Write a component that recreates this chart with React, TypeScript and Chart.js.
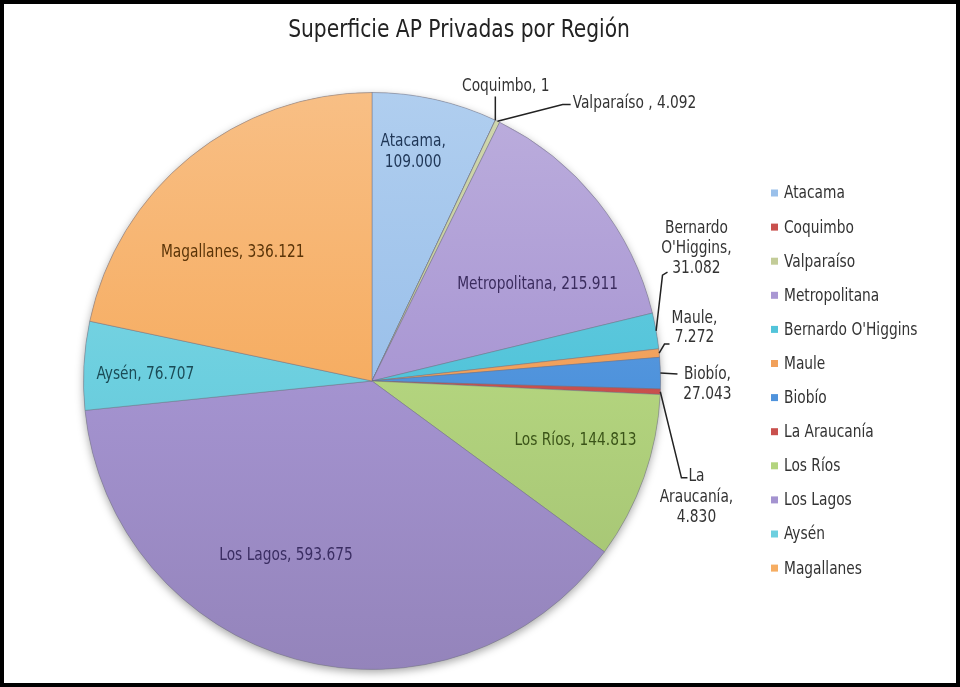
import { useEffect, useRef } from "react";
import { Chart, registerables } from "chart.js";

Chart.register(...registerables);

// ---------- data ----------
const regions = [
  "Atacama",
  "Coquimbo",
  "Valparaíso",
  "Metropolitana",
  "Bernardo O'Higgins",
  "Maule",
  "Biobío",
  "La Araucanía",
  "Los Ríos",
  "Los Lagos",
  "Aysén",
  "Magallanes",
];
const superficie = [109000, 1, 4092, 215911, 31082, 7272, 27043, 4830, 144813, 593675, 76707, 336121];
const chartTitle = "Superficie AP Privadas por Región";

// ---------- styles ----------
const sliceColors = [
  "#9ac0ea", "#c9504d", "#c3cc98", "#a997d3", "#52c4da", "#f1a05a",
  "#4f93dc", "#c9504d", "#b3d47e", "#a493d0", "#6ccfdf", "#f6ad62",
];
const labelInk = [
  "#1f3656", "#333333", "#333333", "#3b2c5e", "#333333", "#333333",
  "#333333", "#333333", "#3b5418", "#3a2d62", "#1b4b56", "#5a3408",
];
const FONT = "'Liberation Sans Narrow', 'Arial Narrow', 'DejaVu Sans Condensed', sans-serif";
const SQUEEZE = 0.9;

type Pt = { x?: number; y: number };
type LabelLayout =
  | { kind: "in"; tpl: string; angle: number; rf: number; lh?: number }
  | { kind: "out"; tpl: string; tx: number; ty: number; align: CanvasTextAlign; lh?: number; path: Pt[] };

const labelLayout: LabelLayout[] = [
  { kind: "in", tpl: "{name},|{value}", angle: 10.2, rf: 0.806, lh: 21 },
  { kind: "out", tpl: "{name}, {value}", tx: 134, ty: -295, align: "center", path: [{ y: -285 }] },
  { kind: "out", tpl: "{name} , {value}", tx: 201, ty: -278, align: "left", path: [{ x: 191, y: -277 }, { x: 199, y: -277 }] },
  { kind: "in", tpl: "{name}, {value}", angle: 59.7, rf: 0.665 },
  { kind: "out", tpl: "{w0}|{w1},|{value}", tx: 325, ty: -153, align: "center", lh: 20, path: [{ x: 291, y: -106 }, { x: 296, y: -109 }] },
  { kind: "out", tpl: "{name},|{value}", tx: 323, ty: -63, align: "center", lh: 20, path: [{ x: 293, y: -37 }, { x: 298, y: -37 }] },
  { kind: "out", tpl: "{name},|{value}", tx: 336, ty: -6, align: "center", lh: 20, path: [{ x: 306, y: -7 }] },
  { kind: "out", tpl: "{w0}|{w1},|{value}", tx: 325, ty: 96, align: "center", lh: 20.5, path: [{ x: 310, y: 97 }, { x: 316, y: 97 }] },
  { kind: "in", tpl: "{name}, {value}", angle: 106.4, rf: 0.735 },
  { kind: "in", tpl: "{name}, {value}", angle: 206.2, rf: 0.675 },
  { kind: "in", tpl: "{name}, {value}", angle: 271.5, rf: 0.786 },
  { kind: "in", tpl: "{name}, {value}", angle: 312.7, rf: 0.657 },
];

const fmt = (v: number) => v.toString().replace(/\B(?=(\d{3})+(?!\d))/g, ".");

function mix(hex: string, target: number, amt: number) {
  const n = parseInt(hex.slice(1), 16);
  const r = (n >> 16) & 255, g = (n >> 8) & 255, b = n & 255;
  const m = (c: number) => Math.round(c + (target - c) * amt);
  return `rgb(${m(r)},${m(g)},${m(b)})`;
}

function buildLines(tpl: string, name: string, value: number) {
  const words = name.split(" ");
  return tpl
    .replace("{name}", name)
    .replace("{value}", fmt(value))
    .replace(/\{w(\d)\}/g, (_, i) => words[Number(i)] ?? "")
    .split("|");
}

// draws condensed text (horizontal squeeze) keeping alignment
function squeezedText(ctx: CanvasRenderingContext2D, t: string, x: number, y: number) {
  ctx.save();
  ctx.translate(x, y);
  ctx.scale(SQUEEZE, 1);
  ctx.fillText(t, 0, 0);
  ctx.restore();
}

export default function App() {
  const ref = useRef<HTMLCanvasElement | null>(null);

  useEffect(() => {
    const canvas = ref.current;
    if (!canvas) return;

    const framePlugin = {
      id: "frame",
      beforeDraw(chart: any) {
        const ctx = chart.ctx;
        ctx.save();
        ctx.fillStyle = "#ffffff";
        ctx.fillRect(0, 0, chart.width, chart.height);
        ctx.restore();
      },
      afterDraw(chart: any) {
        const ctx = chart.ctx;
        ctx.save();
        ctx.strokeStyle = "#000";
        ctx.lineWidth = 4;
        ctx.strokeRect(2, 2, chart.width - 4, chart.height - 4);
        // title
        ctx.fillStyle = "#222";
        ctx.font = `25px ${FONT}`;
        ctx.textAlign = "center";
        ctx.textBaseline = "middle";
        squeezedText(ctx, chartTitle, 459, 30);
        // legend
        ctx.font = `17px ${FONT}`;
        ctx.textAlign = "left";
        regions.forEach((r, i) => {
          const y = 193 + i * 34.1;
          ctx.fillStyle = sliceColors[i];
          ctx.fillRect(771, y - 3.5, 7, 7);
          ctx.fillStyle = "#333";
          squeezedText(ctx, r, 784, y + 1);
        });
        ctx.restore();
      },
    };

    const shadowPlugin = {
      id: "pieShadow",
      beforeDatasetsDraw(chart: any) {
        const arc = chart.getDatasetMeta(0).data[0];
        if (!arc) return;
        const { x, y, outerRadius } = arc.getProps(["x", "y", "outerRadius"], true);
        const ctx = chart.ctx;
        ctx.save();
        ctx.shadowColor = "rgba(0,0,0,0.35)";
        ctx.shadowBlur = 8;
        ctx.shadowOffsetY = 3;
        ctx.beginPath();
        ctx.arc(x, y, outerRadius, 0, Math.PI * 2);
        ctx.fillStyle = "#999";
        ctx.fill();
        ctx.restore();
      },
    };

    const labelsPlugin = {
      id: "sliceLabels",
      afterDatasetsDraw(chart: any) {
        const meta = chart.getDatasetMeta(0);
        const ctx = chart.ctx;
        ctx.save();
        ctx.font = `17px ${FONT}`;
        ctx.textBaseline = "middle";
        meta.data.forEach((el: any, i: number) => {
          const lay = labelLayout[i];
          const p = el.getProps(["x", "y", "startAngle", "endAngle", "outerRadius"], true);
          const s = p.outerRadius / 289;
          const lines = buildLines(lay.tpl, regions[i], superficie[i]);
          const lh = (lay.lh ?? 20) * s;
          ctx.fillStyle = labelInk[i];
          if (lay.kind === "in") {
            const a = (lay.angle - 90) * Math.PI / 180;
            const cx = p.x + Math.cos(a) * p.outerRadius * lay.rf;
            const cy = p.y + Math.sin(a) * p.outerRadius * lay.rf;
            ctx.textAlign = "center";
            const y0 = cy - ((lines.length - 1) * lh) / 2;
            lines.forEach((t, k) => squeezedText(ctx, t, cx, y0 + k * lh));
          } else {
            const mid = (p.startAngle + p.endAngle) / 2;
            const ax = p.x + Math.cos(mid) * p.outerRadius;
            const ay = p.y + Math.sin(mid) * p.outerRadius;
            ctx.strokeStyle = "#222";
            ctx.lineWidth = 1.5;
            ctx.beginPath();
            ctx.moveTo(ax, ay);
            lay.path.forEach((pt) => {
              const px = pt.x === undefined ? ax : p.x + pt.x * s;
              ctx.lineTo(px, p.y + pt.y * s);
            });
            ctx.stroke();
            ctx.textAlign = lay.align;
            lines.forEach((t, k) => squeezedText(ctx, t, p.x + lay.tx * s, p.y + lay.ty * s + k * lh));
          }
        });
        ctx.restore();
      },
    };

    const chart = new Chart(canvas, {
      type: "pie",
      data: {
        labels: regions,
        datasets: [
          {
            data: superficie,
            backgroundColor: (c: any) => {
              const base = sliceColors[c.dataIndex] ?? "#999";
              const area = c.chart.chartArea;
              if (!area) return base;
              const g = c.chart.ctx.createLinearGradient(0, area.top, 0, area.bottom);
              g.addColorStop(0, mix(base, 255, 0.22));
              g.addColorStop(0.5, base);
              g.addColorStop(1, mix(base, 0, 0.1));
              return g;
            },
            borderColor: "rgba(110,110,130,0.45)",
            borderWidth: 1,
          },
        ],
      },
      options: {
        responsive: false,
        animation: false,
        layout: { padding: { top: 92, bottom: 17, left: 83, right: 299 } },
        plugins: {
          legend: { display: false },
          tooltip: { enabled: false },
          title: { display: false },
        },
      },
      plugins: [framePlugin, shadowPlugin, labelsPlugin],
    });

    return () => chart.destroy();
  }, []);

  return (
    <div style={{ position: "fixed", left: 0, top: 0, width: 960, height: 687, background: "#fff" }}>
      <canvas ref={ref} width={960} height={687} style={{ display: "block" }} />
    </div>
  );
}
